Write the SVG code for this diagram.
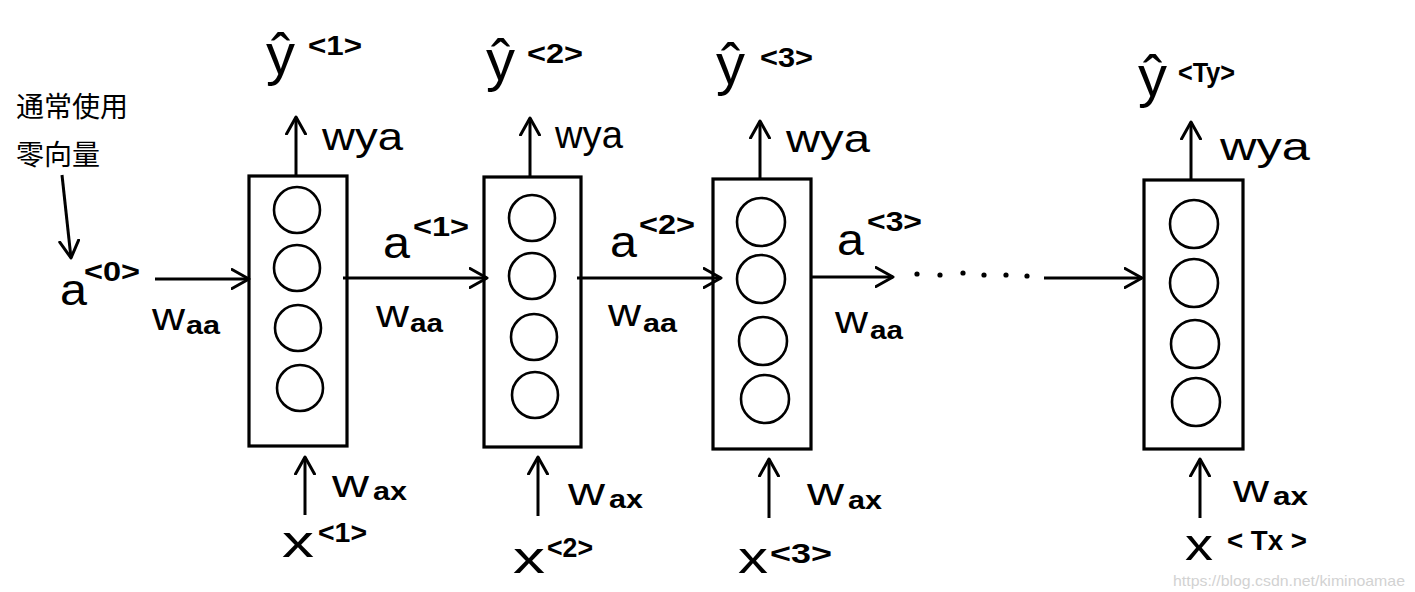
<svg xmlns="http://www.w3.org/2000/svg" width="1415" height="592" viewBox="0 0 1415 592">
<style>
.box{fill:none;stroke:#000;stroke-width:3.2}
.unit{fill:none;stroke:#000;stroke-width:2.6}
.con{fill:none;stroke:#000;stroke-width:3;marker-end:url(#ah)}
.t{font-family:"Liberation Sans",Arial,sans-serif;fill:#000}
.big{font-size:44px}
.yh{font-size:58px}
.sup{font-size:28px;font-weight:bold}
.w{font-size:38px}
.sub{font-size:26px;font-weight:bold}
.cn{font-family:"Noto Sans CJK SC",sans-serif;font-size:28px;fill:#000}
.wm{font-family:"Liberation Sans",Arial,sans-serif;font-size:15px;fill:#d2d2d2}
</style>
<defs>
<marker id="ah" markerUnits="userSpaceOnUse" viewBox="0 0 20 22" refX="18" refY="11" markerWidth="20" markerHeight="22" orient="auto">
<path d="M1,1.5 L18,11 L1,20.5" fill="none" stroke="#000" stroke-width="3" stroke-linecap="round" stroke-linejoin="round"/>
</marker>
</defs>
<rect width="1415" height="592" fill="#fff"/>

<g id="note">
<text class="cn" x="16" y="117">通常使用</text>
<text class="cn" x="16" y="165">零向量</text>
</g>

<g id="cell1">
<rect class="box" x="249" y="176" width="98" height="270"/>
<circle class="unit" cx="297" cy="210" r="23"/>
<circle class="unit" cx="297" cy="268" r="23"/>
<circle class="unit" cx="298" cy="328" r="23"/>
<circle class="unit" cx="300" cy="388" r="23"/>
</g>
<g id="cell2">
<rect class="box" x="484" y="177" width="97" height="270"/>
<circle class="unit" cx="532" cy="218" r="23"/>
<circle class="unit" cx="532" cy="276" r="23"/>
<circle class="unit" cx="534" cy="337" r="23"/>
<circle class="unit" cx="535" cy="395" r="23"/>
</g>
<g id="cell3">
<rect class="box" x="713" y="179" width="98" height="270"/>
<circle class="unit" cx="761" cy="222" r="24"/>
<circle class="unit" cx="761" cy="279" r="24"/>
<circle class="unit" cx="763" cy="341" r="24"/>
<circle class="unit" cx="765" cy="399" r="24"/>
</g>
<g id="cellT">
<rect class="box" x="1144" y="180" width="99" height="269"/>
<circle class="unit" cx="1194" cy="224" r="24"/>
<circle class="unit" cx="1194" cy="283" r="24"/>
<circle class="unit" cx="1195" cy="344" r="24"/>
<circle class="unit" cx="1196" cy="402" r="24"/>
</g>

<g id="connectors">
<line class="con" x1="62" y1="175" x2="71" y2="258"/>
<line class="con" x1="155" y1="279" x2="249" y2="279"/>
<line class="con" x1="343" y1="278" x2="487" y2="278"/>
<line class="con" x1="577" y1="278" x2="721" y2="278"/>
<line class="con" x1="811" y1="277" x2="893" y2="277"/>
<line class="con" x1="1044" y1="278" x2="1142" y2="278"/>
<line class="con" x1="296" y1="176" x2="296" y2="117"/>
<line class="con" x1="530" y1="177" x2="530" y2="118"/>
<line class="con" x1="760" y1="179" x2="760" y2="121"/>
<line class="con" x1="1191" y1="180" x2="1191" y2="122"/>
<line class="con" x1="305" y1="515" x2="305" y2="457"/>
<line class="con" x1="538" y1="516" x2="538" y2="457"/>
<line class="con" x1="769" y1="518" x2="769" y2="459"/>
<line class="con" x1="1200" y1="518" x2="1200" y2="459"/>
<g fill="#000">
<circle cx="917" cy="274" r="2.6"/>
<circle cx="940" cy="275" r="2.6"/>
<circle cx="963" cy="273" r="2.6"/>
<circle cx="984" cy="275" r="2.6"/>
<circle cx="1006" cy="275" r="2.6"/>
<circle cx="1027" cy="276" r="2.6"/>
</g>
</g>

<g id="labels">
<text class="t yh" x="266" y="74">ŷ</text>
<text class="t sup" x="308" y="55" textLength="54" lengthAdjust="spacingAndGlyphs">&lt;1&gt;</text>
<text class="t yh" x="486" y="80">ŷ</text>
<text class="t sup" x="527" y="63" textLength="56" lengthAdjust="spacingAndGlyphs">&lt;2&gt;</text>
<text class="t yh" x="716" y="84">ŷ</text>
<text class="t sup" x="760" y="67" textLength="53" lengthAdjust="spacingAndGlyphs">&lt;3&gt;</text>
<text class="t yh" x="1138" y="96">ŷ</text>
<text class="t sup" x="1178" y="82" textLength="57" lengthAdjust="spacingAndGlyphs">&lt;Ty&gt;</text>

<text class="t w" x="322" y="150" textLength="81" lengthAdjust="spacingAndGlyphs">wya</text>
<text class="t w" x="555" y="148" textLength="68" lengthAdjust="spacingAndGlyphs">wya</text>
<text class="t w" x="786" y="152" textLength="84" lengthAdjust="spacingAndGlyphs">wya</text>
<text class="t w" x="1220" y="160" textLength="90" lengthAdjust="spacingAndGlyphs">wya</text>

<text class="t big" x="60" y="305" textLength="27" lengthAdjust="spacingAndGlyphs">a</text>
<text class="t sup" x="84" y="281" textLength="56" lengthAdjust="spacingAndGlyphs">&lt;0&gt;</text>
<text class="t big" x="383" y="258" textLength="27" lengthAdjust="spacingAndGlyphs">a</text>
<text class="t sup" x="413" y="236" textLength="56" lengthAdjust="spacingAndGlyphs">&lt;1&gt;</text>
<text class="t big" x="610" y="257" textLength="27" lengthAdjust="spacingAndGlyphs">a</text>
<text class="t sup" x="639" y="234" textLength="56" lengthAdjust="spacingAndGlyphs">&lt;2&gt;</text>
<text class="t big" x="837" y="255" textLength="27" lengthAdjust="spacingAndGlyphs">a</text>
<text class="t sup" x="867" y="231" textLength="55" lengthAdjust="spacingAndGlyphs">&lt;3&gt;</text>

<text class="t w" x="152" y="330" textLength="33" lengthAdjust="spacingAndGlyphs">w</text>
<text class="t sub" x="186" y="334" textLength="34" lengthAdjust="spacingAndGlyphs">aa</text>
<text class="t w" x="376" y="327" textLength="33" lengthAdjust="spacingAndGlyphs">w</text>
<text class="t sub" x="410" y="332" textLength="33" lengthAdjust="spacingAndGlyphs">aa</text>
<text class="t w" x="608" y="326" textLength="33" lengthAdjust="spacingAndGlyphs">w</text>
<text class="t sub" x="643" y="332" textLength="34" lengthAdjust="spacingAndGlyphs">aa</text>
<text class="t w" x="835" y="333" textLength="33" lengthAdjust="spacingAndGlyphs">w</text>
<text class="t sub" x="870" y="339" textLength="33" lengthAdjust="spacingAndGlyphs">aa</text>

<text class="t w" x="332" y="497" textLength="37" lengthAdjust="spacingAndGlyphs">w</text>
<text class="t sub" x="373" y="500" textLength="34" lengthAdjust="spacingAndGlyphs">ax</text>
<text class="t w" x="568" y="505" textLength="37" lengthAdjust="spacingAndGlyphs">w</text>
<text class="t sub" x="609" y="508" textLength="34" lengthAdjust="spacingAndGlyphs">ax</text>
<text class="t w" x="807" y="505" textLength="37" lengthAdjust="spacingAndGlyphs">w</text>
<text class="t sub" x="848" y="509" textLength="34" lengthAdjust="spacingAndGlyphs">ax</text>
<text class="t w" x="1233" y="502" textLength="36" lengthAdjust="spacingAndGlyphs">w</text>
<text class="t sub" x="1273" y="505" textLength="35" lengthAdjust="spacingAndGlyphs">ax</text>

<text class="t big" x="282" y="557" textLength="32" lengthAdjust="spacingAndGlyphs">x</text>
<text class="t sup" x="318" y="542" textLength="49" lengthAdjust="spacingAndGlyphs">&lt;1&gt;</text>
<text class="t big" x="513" y="573" textLength="32" lengthAdjust="spacingAndGlyphs">x</text>
<text class="t sup" x="547" y="557" textLength="46" lengthAdjust="spacingAndGlyphs">&lt;2&gt;</text>
<text class="t big" x="738" y="573" textLength="30" lengthAdjust="spacingAndGlyphs">x</text>
<text class="t sup" x="770" y="563" textLength="62" lengthAdjust="spacingAndGlyphs">&lt;3&gt;</text>
<text class="t big" x="1185" y="560" textLength="28" lengthAdjust="spacingAndGlyphs">x</text>
<text class="t sup" x="1227" y="550" textLength="80" lengthAdjust="spacingAndGlyphs">&lt; Tx &gt;</text>
</g>

<text class="wm" x="1173" y="586" textLength="232" lengthAdjust="spacingAndGlyphs">https://blog.csdn.net/kiminoamae</text>
</svg>
